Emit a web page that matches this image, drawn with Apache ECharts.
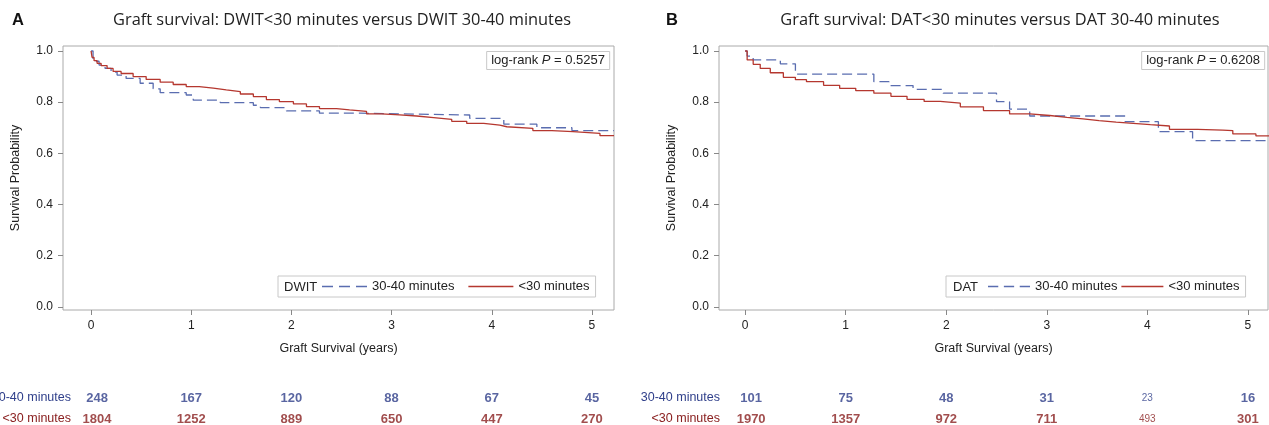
<!DOCTYPE html>
<html>
<head>
<meta charset="utf-8">
<script src="https://cdn.jsdelivr.net/npm/echarts@6/dist/echarts.min.js"></script>
<style>
html, body { margin: 0; padding: 0; background: #fff; }
#chart { width: 1269px; height: 425px; }
</style>
</head>
<body>
<div id="chart"></div>
<script>
// panel A: DWIT 30-40 minutes (dashed) and <30 minutes (solid)
var dwitLongT = [0, 0.02, 0.08, 0.14, 0.2, 0.26, 0.35, 0.49, 0.62, 0.69, 0.95, 1.02, 1.29, 1.62, 1.69, 1.95, 2.28, 2.68, 3.78, 4.12, 4.45, 4.8, 5.22];
var dwitLongS = [1.0, 0.96, 0.945, 0.932, 0.918, 0.906, 0.893, 0.874, 0.852, 0.837, 0.828, 0.808, 0.798, 0.788, 0.779, 0.766, 0.757, 0.75, 0.737, 0.714, 0.70, 0.689, 0.689];
var dwitShortT = [0, 0.01, 0.03, 0.06, 0.1, 0.16, 0.22, 0.3, 0.42, 0.55, 0.69, 0.82, 0.95, 1.08, 1.22, 1.35, 1.49, 1.62, 1.75, 1.88, 2.02, 2.15, 2.28, 2.45, 2.58, 2.75, 2.9, 3.08, 3.25, 3.42, 3.6, 3.75, 3.92, 4.08, 4.15, 4.41, 4.6, 4.81, 5.08, 5.22];
var dwitShortS = [1.0, 0.975, 0.962, 0.952, 0.943, 0.932, 0.92, 0.912, 0.90, 0.889, 0.878, 0.869, 0.861, 0.855, 0.848, 0.841, 0.832, 0.822, 0.81, 0.802, 0.793, 0.783, 0.775, 0.77, 0.764, 0.754, 0.75, 0.746, 0.74, 0.733, 0.725, 0.717, 0.71, 0.704, 0.698, 0.689, 0.685, 0.678, 0.669, 0.669];

// panel B: DAT 30-40 minutes (dashed) and <30 minutes (solid)
var datLongT = [0, 0.02, 0.08, 0.35, 0.5, 1.28, 1.43, 1.67, 1.97, 2.5, 2.63, 2.83, 3.78, 4.11, 4.45, 5.21];
var datLongS = [1.0, 0.98, 0.965, 0.95, 0.91, 0.88, 0.865, 0.85, 0.835, 0.802, 0.773, 0.746, 0.724, 0.685, 0.65, 0.65];
var datShortT = [0, 0.02, 0.08, 0.15, 0.25, 0.38, 0.5, 0.61, 0.78, 0.94, 1.1, 1.28, 1.45, 1.61, 1.78, 1.94, 2.14, 2.37, 2.63, 2.83, 3.03, 3.2, 3.36, 3.52, 3.69, 3.86, 4.03, 4.22, 4.5, 4.75, 4.85, 5.08, 5.21];
var datShortS = [1.0, 0.965, 0.948, 0.932, 0.915, 0.897, 0.888, 0.88, 0.866, 0.854, 0.845, 0.835, 0.823, 0.811, 0.803, 0.796, 0.782, 0.767, 0.754, 0.748, 0.741, 0.735, 0.728, 0.722, 0.717, 0.712, 0.707, 0.694, 0.691, 0.689, 0.676, 0.668, 0.668];

// numbers at risk
var riskYears = [0, 1, 2, 3, 4, 5];
var riskRows = ['30-40 minutes', '<30 minutes'];
var riskDwitLong = [248, 167, 120, 88, 67, 45];
var riskDwitShort = [1804, 1252, 889, 650, 447, 270];
var riskDatLong = [101, 75, 48, 31, 23, 16];
var riskDatShort = [1970, 1357, 972, 711, 493, 301];

var yTicks = [0, 0.2, 0.4, 0.6, 0.8, 1.0];
var xTicks = [0, 1, 2, 3, 4, 5];

var blueLine = '#5a6db0', redLine = '#b5372f';
var blueText = '#2f3f8a', redText = '#8a2020';
var font = 'Liberation Sans, Arial, sans-serif';
// legend samples: three dashes / one solid rule
var dashIcon = 'path://M0,0h11v2h-11z M17,0h11v2h-11z M34,0h11v2h-11z';
var solidIcon = 'path://M0,0h45v2h-45z';

function pairs(t, s) {
    var out = [];
    for (var i = 0; i < t.length; i++) out.push([t[i], s[i]]);
    return out;
}

// small: indices drawn in a smaller font; first column sits a bit right of its tick
function riskData(counts, row, small) {
    return riskYears.map(function (yr, i) {
        var item = { value: [yr, row, counts[i]] };
        if (small && small.indexOf(i) >= 0) item.label = { fontSize: 10, fontWeight: 'normal' };
        else if (i === 0) item.label = { offset: [6, 0] };
        return item;
    });
}

function plotX(idx, min, max) {
    return {
        type: 'value', gridIndex: idx, min: min, max: max,
        name: 'Graft Survival (years)', nameLocation: 'middle', nameGap: 32,
        nameTextStyle: { fontFamily: font, fontSize: 12.5, color: '#222' },
        axisLine: { show: false, onZero: false },
        axisTick: { show: true, length: 5, lineStyle: { color: '#888' }, customValues: xTicks },
        axisLabel: { fontFamily: font, fontSize: 12, color: '#222', margin: 10, customValues: xTicks,
            formatter: function (v) { return String(Math.round(v)); } },
        splitLine: { show: false }
    };
}

function plotY(idx) {
    return {
        type: 'value', gridIndex: idx, min: -0.012, max: 1.0195,
        name: 'Survival Probability', nameLocation: 'middle', nameGap: 41,
        nameTextStyle: { fontFamily: font, fontSize: 12.5, color: '#222' },
        axisLine: { show: false, onZero: false },
        axisTick: { show: true, length: 5, lineStyle: { color: '#888' }, customValues: yTicks },
        axisLabel: { fontFamily: font, fontSize: 12, color: '#222', margin: 10, customValues: yTicks,
            formatter: function (v) { return v.toFixed(1); } },
        splitLine: { show: false }
    };
}

function riskX(idx, min, max) {
    return { type: 'value', gridIndex: idx, min: min, max: max, show: false, axisLine: { onZero: false } };
}

function riskY(idx, margin) {
    return {
        type: 'category', gridIndex: idx, data: riskRows, inverse: true, boundaryGap: false,
        axisLine: { show: false, onZero: false }, axisTick: { show: false },
        axisLabel: { fontFamily: font, fontSize: 12.5, margin: margin,
            color: function (v) { return v === riskRows[0] ? blueText : redText; } }
    };
}

function kmLine(name, idx, data, dashed) {
    return {
        name: name, type: 'line', xAxisIndex: idx, yAxisIndex: idx,
        step: 'end', symbol: 'none', data: data, silent: true,
        lineStyle: { color: dashed ? blueLine : redLine, width: 1.3, type: dashed ? [10, 5] : 'solid' },
        itemStyle: { color: dashed ? blueLine : redLine }
    };
}

function riskSeries(name, idx, data, color) {
    return {
        name: name, type: 'scatter', xAxisIndex: idx, yAxisIndex: idx,
        symbolSize: 0, data: data, silent: true,
        label: { show: true, position: 'inside', fontFamily: font, fontSize: 13, fontWeight: 'bold', color: color,
            formatter: function (p) { return String(p.value[2]); } }
    };
}

function legendBox(left, padLeft, itemWidth, gap) {
    return {
        data: [{ name: riskRows[0], icon: dashIcon }, { name: riskRows[1], icon: solidIcon }],
        left: left, top: 276, orient: 'horizontal', symbolKeepAspect: false,
        itemWidth: itemWidth, itemHeight: 1.5, itemGap: gap,
        borderColor: '#c8c8c8', borderWidth: 1, padding: [4, 6, 4, padLeft],
        textStyle: { fontFamily: font, fontSize: 13, color: '#222' },
        selectedMode: false
    };
}

var myChart = echarts.init(document.getElementById('chart'));
var option = {
    animation: false,
    backgroundColor: '#fff',
    grid: [
        { left: 63, right: 655, top: 46, bottom: 115, show: true, borderColor: '#aaa', borderWidth: 1, outerBoundsMode: 'none' },
        { left: 719, right: 1, top: 46, bottom: 115, show: true, borderColor: '#aaa', borderWidth: 1, outerBoundsMode: 'none' },
        { left: 63, right: 655, top: 398, height: 21, outerBoundsMode: 'none' },
        { left: 719, right: 1, top: 398, height: 21, outerBoundsMode: 'none' }
    ],
    xAxis: [plotX(0, -0.28, 5.22), plotX(1, -0.26, 5.2), riskX(2, -0.28, 5.22), riskX(3, -0.26, 5.2)],
    yAxis: [plotY(0), plotY(1), riskY(2, -8), riskY(3, -1)],
    title: [
        { text: 'log-rank {i|P} = 0.5257', right: 659, top: 51, padding: [3, 5],
          borderColor: '#c8c8c8', borderWidth: 1,
          textStyle: { fontFamily: font, fontSize: 13, fontWeight: 'normal', color: '#222',
            rich: { i: { fontFamily: font, fontSize: 13, fontStyle: 'italic', color: '#222' } } } },
        { text: 'log-rank {i|P} = 0.6208', right: 4, top: 51, padding: [3, 5],
          borderColor: '#c8c8c8', borderWidth: 1,
          textStyle: { fontFamily: font, fontSize: 13, fontWeight: 'normal', color: '#222',
            rich: { i: { fontFamily: font, fontSize: 13, fontStyle: 'italic', color: '#222' } } } }
    ],
    legend: [legendBox(278, 44, 45, 14), legendBox(946, 42, 42, 4)],
    graphic: [
        { type: 'text', x: 12, y: 20, style: { text: 'A', font: 'bold 16.5px ' + font, fill: '#111', textVerticalAlign: 'middle' } },
        { type: 'text', x: 666, y: 20, style: { text: 'B', font: 'bold 16.5px ' + font, fill: '#111', textVerticalAlign: 'middle' } },
        { type: 'text', x: 342, y: 20, style: { text: 'Graft survival: DWIT<30 minutes versus DWIT 30-40 minutes',
            font: '16.4px "Open Sans", sans-serif', fill: '#222', textAlign: 'center', textVerticalAlign: 'middle' } },
        { type: 'text', x: 1000, y: 20, style: { text: 'Graft survival: DAT<30 minutes versus DAT 30-40 minutes',
            font: '16.4px "Open Sans", sans-serif', fill: '#222', textAlign: 'center', textVerticalAlign: 'middle' } },
        { type: 'text', x: 284, y: 287, style: { text: 'DWIT', font: '13px ' + font, fill: '#222', textVerticalAlign: 'middle' } },
        { type: 'text', x: 953, y: 287, style: { text: 'DAT', font: '13px ' + font, fill: '#222', textVerticalAlign: 'middle' } }
    ],
    series: [
        kmLine('30-40 minutes', 0, pairs(dwitLongT, dwitLongS), true),
        kmLine('<30 minutes', 0, pairs(dwitShortT, dwitShortS), false),
        kmLine('30-40 minutes', 1, pairs(datLongT, datLongS), true),
        kmLine('<30 minutes', 1, pairs(datShortT, datShortS), false),
        riskSeries('riskA1', 2, riskData(riskDwitLong, riskRows[0]), blueText),
        riskSeries('riskA2', 2, riskData(riskDwitShort, riskRows[1]), redText),
        riskSeries('riskB1', 3, riskData(riskDatLong, riskRows[0], [4]), blueText),
        riskSeries('riskB2', 3, riskData(riskDatShort, riskRows[1], [4]), redText)
    ]
};
myChart.setOption(option);
</script>
</body>
</html>
